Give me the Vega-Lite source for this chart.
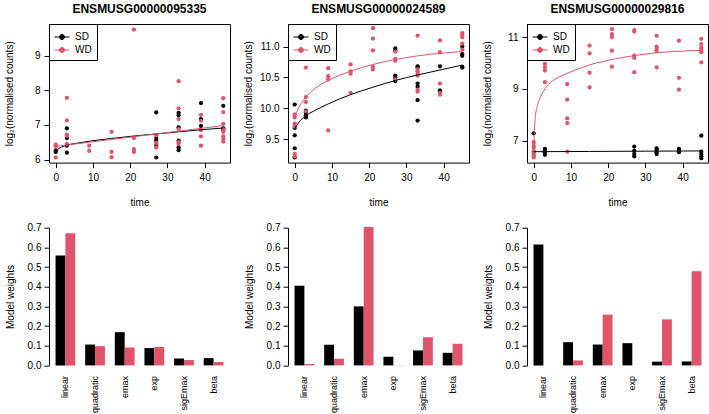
{
  "$schema": "https://vega.github.io/schema/vega-lite/v6.json",
  "background": "white",
  "padding": {"left": 3, "top": 2, "right": 0, "bottom": 0},
  "bounds": "flush",
  "columns": 3,
  "spacing": {"row": 64.7, "column": 58},
  "resolve": {"scale": {"color": "independent"}, "legend": {"color": "independent"}},
  "config": {
    "font": "Liberation Sans",
    "view": {"stroke": "black", "strokeWidth": 1},
    "axis": {
      "grid": false,
      "labelFont": "Liberation Sans",
      "labelFontSize": 10,
      "labelColor": "black",
      "titleFont": "Liberation Sans",
      "titleFontSize": 10,
      "titleFontWeight": "normal",
      "titleColor": "black",
      "tickColor": "black",
      "tickSize": 5,
      "domainColor": "black",
      "labelOverlap": false,
      "labelFlush": false
    },
    "title": {"font": "Liberation Sans", "fontSize": 12, "fontWeight": "bold", "color": "black", "offset": 8},
    "legend": {
      "orient": "top-left",
      "offset": 0,
      "padding": 5,
      "cornerRadius": 0,
      "strokeColor": "black",
      "fillColor": "white",
      "labelFont": "Liberation Sans",
      "labelFontSize": 10,
      "labelColor": "black",
      "rowPadding": -5,
      "labelOffset": 5,
      "symbolType": "M-1,0H1M-0.333,0A0.333,0.333,0,1,0,0.333,0A0.333,0.333,0,1,0,-0.333,0Z",
      "symbolSize": 225,
      "symbolStrokeWidth": 1
    }
  },
  "datasets": {
    "obs": [
      {"gene": "ENSMUSG00000095335", "diet": "SD", "time": 0, "value": 6.25},
      {"gene": "ENSMUSG00000095335", "diet": "SD", "time": 0, "value": 6.22},
      {"gene": "ENSMUSG00000095335", "diet": "SD", "time": 3, "value": 6.9},
      {"gene": "ENSMUSG00000095335", "diet": "SD", "time": 3, "value": 6.62},
      {"gene": "ENSMUSG00000095335", "diet": "SD", "time": 3, "value": 6.4},
      {"gene": "ENSMUSG00000095335", "diet": "SD", "time": 3, "value": 6.2},
      {"gene": "ENSMUSG00000095335", "diet": "SD", "time": 27, "value": 7.36},
      {"gene": "ENSMUSG00000095335", "diet": "SD", "time": 27, "value": 6.62},
      {"gene": "ENSMUSG00000095335", "diet": "SD", "time": 27, "value": 6.55},
      {"gene": "ENSMUSG00000095335", "diet": "SD", "time": 27, "value": 6.4},
      {"gene": "ENSMUSG00000095335", "diet": "SD", "time": 27, "value": 6.06},
      {"gene": "ENSMUSG00000095335", "diet": "SD", "time": 33, "value": 7.35},
      {"gene": "ENSMUSG00000095335", "diet": "SD", "time": 33, "value": 7.28},
      {"gene": "ENSMUSG00000095335", "diet": "SD", "time": 33, "value": 6.93},
      {"gene": "ENSMUSG00000095335", "diet": "SD", "time": 33, "value": 6.55},
      {"gene": "ENSMUSG00000095335", "diet": "SD", "time": 33, "value": 6.35},
      {"gene": "ENSMUSG00000095335", "diet": "SD", "time": 33, "value": 6.27},
      {"gene": "ENSMUSG00000095335", "diet": "SD", "time": 39, "value": 7.63},
      {"gene": "ENSMUSG00000095335", "diet": "SD", "time": 39, "value": 7.17},
      {"gene": "ENSMUSG00000095335", "diet": "SD", "time": 39, "value": 6.97},
      {"gene": "ENSMUSG00000095335", "diet": "SD", "time": 45, "value": 7.55},
      {"gene": "ENSMUSG00000095335", "diet": "SD", "time": 45, "value": 6.9},
      {"gene": "ENSMUSG00000095335", "diet": "SD", "time": 45, "value": 6.85},
      {"gene": "ENSMUSG00000095335", "diet": "WD", "time": 0, "value": 6.43},
      {"gene": "ENSMUSG00000095335", "diet": "WD", "time": 0, "value": 6.4},
      {"gene": "ENSMUSG00000095335", "diet": "WD", "time": 0, "value": 6.36},
      {"gene": "ENSMUSG00000095335", "diet": "WD", "time": 0, "value": 6.06},
      {"gene": "ENSMUSG00000095335", "diet": "WD", "time": 3, "value": 7.78},
      {"gene": "ENSMUSG00000095335", "diet": "WD", "time": 3, "value": 7.13},
      {"gene": "ENSMUSG00000095335", "diet": "WD", "time": 3, "value": 6.72},
      {"gene": "ENSMUSG00000095335", "diet": "WD", "time": 3, "value": 6.68},
      {"gene": "ENSMUSG00000095335", "diet": "WD", "time": 3, "value": 6.45},
      {"gene": "ENSMUSG00000095335", "diet": "WD", "time": 9, "value": 6.4},
      {"gene": "ENSMUSG00000095335", "diet": "WD", "time": 9, "value": 6.25},
      {"gene": "ENSMUSG00000095335", "diet": "WD", "time": 15, "value": 6.8},
      {"gene": "ENSMUSG00000095335", "diet": "WD", "time": 15, "value": 6.22},
      {"gene": "ENSMUSG00000095335", "diet": "WD", "time": 15, "value": 6.07},
      {"gene": "ENSMUSG00000095335", "diet": "WD", "time": 21, "value": 9.75},
      {"gene": "ENSMUSG00000095335", "diet": "WD", "time": 21, "value": 6.62},
      {"gene": "ENSMUSG00000095335", "diet": "WD", "time": 21, "value": 6.3},
      {"gene": "ENSMUSG00000095335", "diet": "WD", "time": 21, "value": 6.22},
      {"gene": "ENSMUSG00000095335", "diet": "WD", "time": 27, "value": 6.7},
      {"gene": "ENSMUSG00000095335", "diet": "WD", "time": 27, "value": 6.48},
      {"gene": "ENSMUSG00000095335", "diet": "WD", "time": 27, "value": 6.35},
      {"gene": "ENSMUSG00000095335", "diet": "WD", "time": 33, "value": 8.26},
      {"gene": "ENSMUSG00000095335", "diet": "WD", "time": 33, "value": 7.48},
      {"gene": "ENSMUSG00000095335", "diet": "WD", "time": 33, "value": 7.17},
      {"gene": "ENSMUSG00000095335", "diet": "WD", "time": 33, "value": 6.88},
      {"gene": "ENSMUSG00000095335", "diet": "WD", "time": 33, "value": 6.5},
      {"gene": "ENSMUSG00000095335", "diet": "WD", "time": 33, "value": 6.45},
      {"gene": "ENSMUSG00000095335", "diet": "WD", "time": 39, "value": 7.29},
      {"gene": "ENSMUSG00000095335", "diet": "WD", "time": 39, "value": 7.12},
      {"gene": "ENSMUSG00000095335", "diet": "WD", "time": 39, "value": 6.85},
      {"gene": "ENSMUSG00000095335", "diet": "WD", "time": 39, "value": 6.67},
      {"gene": "ENSMUSG00000095335", "diet": "WD", "time": 39, "value": 6.4},
      {"gene": "ENSMUSG00000095335", "diet": "WD", "time": 45, "value": 7.77},
      {"gene": "ENSMUSG00000095335", "diet": "WD", "time": 45, "value": 7.37},
      {"gene": "ENSMUSG00000095335", "diet": "WD", "time": 45, "value": 7.03},
      {"gene": "ENSMUSG00000095335", "diet": "WD", "time": 45, "value": 6.87},
      {"gene": "ENSMUSG00000095335", "diet": "WD", "time": 45, "value": 6.8},
      {"gene": "ENSMUSG00000095335", "diet": "WD", "time": 45, "value": 6.67},
      {"gene": "ENSMUSG00000095335", "diet": "WD", "time": 45, "value": 6.6},
      {"gene": "ENSMUSG00000095335", "diet": "WD", "time": 45, "value": 6.52},

      {"gene": "ENSMUSG00000024589", "diet": "SD", "time": 0, "value": 10.06},
      {"gene": "ENSMUSG00000024589", "diet": "SD", "time": 0, "value": 9.68},
      {"gene": "ENSMUSG00000024589", "diet": "SD", "time": 0, "value": 9.56},
      {"gene": "ENSMUSG00000024589", "diet": "SD", "time": 0, "value": 9.35},
      {"gene": "ENSMUSG00000024589", "diet": "SD", "time": 0, "value": 9.2},
      {"gene": "ENSMUSG00000024589", "diet": "SD", "time": 3, "value": 9.96},
      {"gene": "ENSMUSG00000024589", "diet": "SD", "time": 3, "value": 9.93},
      {"gene": "ENSMUSG00000024589", "diet": "SD", "time": 3, "value": 9.88},
      {"gene": "ENSMUSG00000024589", "diet": "SD", "time": 3, "value": 9.85},
      {"gene": "ENSMUSG00000024589", "diet": "SD", "time": 27, "value": 10.97},
      {"gene": "ENSMUSG00000024589", "diet": "SD", "time": 27, "value": 10.94},
      {"gene": "ENSMUSG00000024589", "diet": "SD", "time": 27, "value": 10.53},
      {"gene": "ENSMUSG00000024589", "diet": "SD", "time": 27, "value": 10.5},
      {"gene": "ENSMUSG00000024589", "diet": "SD", "time": 27, "value": 10.44},
      {"gene": "ENSMUSG00000024589", "diet": "SD", "time": 33, "value": 10.68},
      {"gene": "ENSMUSG00000024589", "diet": "SD", "time": 33, "value": 10.66},
      {"gene": "ENSMUSG00000024589", "diet": "SD", "time": 33, "value": 10.4},
      {"gene": "ENSMUSG00000024589", "diet": "SD", "time": 33, "value": 10.35},
      {"gene": "ENSMUSG00000024589", "diet": "SD", "time": 33, "value": 10.13},
      {"gene": "ENSMUSG00000024589", "diet": "SD", "time": 33, "value": 9.8},
      {"gene": "ENSMUSG00000024589", "diet": "SD", "time": 39, "value": 10.68},
      {"gene": "ENSMUSG00000024589", "diet": "SD", "time": 39, "value": 10.29},
      {"gene": "ENSMUSG00000024589", "diet": "SD", "time": 39, "value": 10.27},
      {"gene": "ENSMUSG00000024589", "diet": "SD", "time": 45, "value": 11.0},
      {"gene": "ENSMUSG00000024589", "diet": "SD", "time": 45, "value": 10.88},
      {"gene": "ENSMUSG00000024589", "diet": "SD", "time": 45, "value": 10.85},
      {"gene": "ENSMUSG00000024589", "diet": "SD", "time": 45, "value": 10.67},
      {"gene": "ENSMUSG00000024589", "diet": "SD", "time": 45, "value": 10.66},
      {"gene": "ENSMUSG00000024589", "diet": "WD", "time": 0, "value": 9.9},
      {"gene": "ENSMUSG00000024589", "diet": "WD", "time": 0, "value": 9.85},
      {"gene": "ENSMUSG00000024589", "diet": "WD", "time": 0, "value": 9.75},
      {"gene": "ENSMUSG00000024589", "diet": "WD", "time": 0, "value": 9.7},
      {"gene": "ENSMUSG00000024589", "diet": "WD", "time": 0, "value": 9.26},
      {"gene": "ENSMUSG00000024589", "diet": "WD", "time": 0, "value": 9.22},
      {"gene": "ENSMUSG00000024589", "diet": "WD", "time": 3, "value": 10.66},
      {"gene": "ENSMUSG00000024589", "diet": "WD", "time": 3, "value": 10.18},
      {"gene": "ENSMUSG00000024589", "diet": "WD", "time": 3, "value": 10.1},
      {"gene": "ENSMUSG00000024589", "diet": "WD", "time": 3, "value": 9.95},
      {"gene": "ENSMUSG00000024589", "diet": "WD", "time": 9, "value": 10.65},
      {"gene": "ENSMUSG00000024589", "diet": "WD", "time": 9, "value": 10.52},
      {"gene": "ENSMUSG00000024589", "diet": "WD", "time": 9, "value": 10.47},
      {"gene": "ENSMUSG00000024589", "diet": "WD", "time": 9, "value": 9.64},
      {"gene": "ENSMUSG00000024589", "diet": "WD", "time": 15, "value": 10.71},
      {"gene": "ENSMUSG00000024589", "diet": "WD", "time": 15, "value": 10.6},
      {"gene": "ENSMUSG00000024589", "diet": "WD", "time": 15, "value": 10.56},
      {"gene": "ENSMUSG00000024589", "diet": "WD", "time": 15, "value": 10.25},
      {"gene": "ENSMUSG00000024589", "diet": "WD", "time": 21, "value": 11.3},
      {"gene": "ENSMUSG00000024589", "diet": "WD", "time": 21, "value": 11.13},
      {"gene": "ENSMUSG00000024589", "diet": "WD", "time": 21, "value": 10.94},
      {"gene": "ENSMUSG00000024589", "diet": "WD", "time": 21, "value": 10.67},
      {"gene": "ENSMUSG00000024589", "diet": "WD", "time": 21, "value": 10.63},
      {"gene": "ENSMUSG00000024589", "diet": "WD", "time": 27, "value": 10.92},
      {"gene": "ENSMUSG00000024589", "diet": "WD", "time": 27, "value": 10.8},
      {"gene": "ENSMUSG00000024589", "diet": "WD", "time": 27, "value": 10.77},
      {"gene": "ENSMUSG00000024589", "diet": "WD", "time": 27, "value": 10.47},
      {"gene": "ENSMUSG00000024589", "diet": "WD", "time": 33, "value": 11.18},
      {"gene": "ENSMUSG00000024589", "diet": "WD", "time": 33, "value": 10.63},
      {"gene": "ENSMUSG00000024589", "diet": "WD", "time": 33, "value": 10.6},
      {"gene": "ENSMUSG00000024589", "diet": "WD", "time": 33, "value": 10.56},
      {"gene": "ENSMUSG00000024589", "diet": "WD", "time": 33, "value": 10.53},
      {"gene": "ENSMUSG00000024589", "diet": "WD", "time": 33, "value": 10.3},
      {"gene": "ENSMUSG00000024589", "diet": "WD", "time": 33, "value": 10.27},
      {"gene": "ENSMUSG00000024589", "diet": "WD", "time": 39, "value": 11.1},
      {"gene": "ENSMUSG00000024589", "diet": "WD", "time": 39, "value": 10.91},
      {"gene": "ENSMUSG00000024589", "diet": "WD", "time": 39, "value": 10.4},
      {"gene": "ENSMUSG00000024589", "diet": "WD", "time": 39, "value": 10.25},
      {"gene": "ENSMUSG00000024589", "diet": "WD", "time": 39, "value": 10.22},
      {"gene": "ENSMUSG00000024589", "diet": "WD", "time": 45, "value": 11.22},
      {"gene": "ENSMUSG00000024589", "diet": "WD", "time": 45, "value": 11.19},
      {"gene": "ENSMUSG00000024589", "diet": "WD", "time": 45, "value": 11.15},
      {"gene": "ENSMUSG00000024589", "diet": "WD", "time": 45, "value": 11.05},
      {"gene": "ENSMUSG00000024589", "diet": "WD", "time": 45, "value": 10.95},

      {"gene": "ENSMUSG00000029816", "diet": "SD", "time": 0, "value": 7.28},
      {"gene": "ENSMUSG00000029816", "diet": "SD", "time": 0, "value": 6.57},
      {"gene": "ENSMUSG00000029816", "diet": "SD", "time": 3, "value": 6.68},
      {"gene": "ENSMUSG00000029816", "diet": "SD", "time": 3, "value": 6.61},
      {"gene": "ENSMUSG00000029816", "diet": "SD", "time": 3, "value": 6.55},
      {"gene": "ENSMUSG00000029816", "diet": "SD", "time": 3, "value": 6.45},
      {"gene": "ENSMUSG00000029816", "diet": "SD", "time": 27, "value": 6.77},
      {"gene": "ENSMUSG00000029816", "diet": "SD", "time": 27, "value": 6.6},
      {"gene": "ENSMUSG00000029816", "diet": "SD", "time": 27, "value": 6.48},
      {"gene": "ENSMUSG00000029816", "diet": "SD", "time": 27, "value": 6.39},
      {"gene": "ENSMUSG00000029816", "diet": "SD", "time": 33, "value": 6.7},
      {"gene": "ENSMUSG00000029816", "diet": "SD", "time": 33, "value": 6.64},
      {"gene": "ENSMUSG00000029816", "diet": "SD", "time": 33, "value": 6.55},
      {"gene": "ENSMUSG00000029816", "diet": "SD", "time": 33, "value": 6.48},
      {"gene": "ENSMUSG00000029816", "diet": "SD", "time": 39, "value": 6.68},
      {"gene": "ENSMUSG00000029816", "diet": "SD", "time": 39, "value": 6.61},
      {"gene": "ENSMUSG00000029816", "diet": "SD", "time": 39, "value": 6.55},
      {"gene": "ENSMUSG00000029816", "diet": "SD", "time": 45, "value": 7.19},
      {"gene": "ENSMUSG00000029816", "diet": "SD", "time": 45, "value": 6.57},
      {"gene": "ENSMUSG00000029816", "diet": "SD", "time": 45, "value": 6.48},
      {"gene": "ENSMUSG00000029816", "diet": "SD", "time": 45, "value": 6.39},
      {"gene": "ENSMUSG00000029816", "diet": "SD", "time": 45, "value": 6.32},
      {"gene": "ENSMUSG00000029816", "diet": "WD", "time": 0, "value": 6.94},
      {"gene": "ENSMUSG00000029816", "diet": "WD", "time": 0, "value": 6.8},
      {"gene": "ENSMUSG00000029816", "diet": "WD", "time": 0, "value": 6.72},
      {"gene": "ENSMUSG00000029816", "diet": "WD", "time": 0, "value": 6.57},
      {"gene": "ENSMUSG00000029816", "diet": "WD", "time": 0, "value": 6.48},
      {"gene": "ENSMUSG00000029816", "diet": "WD", "time": 0, "value": 6.42},
      {"gene": "ENSMUSG00000029816", "diet": "WD", "time": 0, "value": 6.35},
      {"gene": "ENSMUSG00000029816", "diet": "WD", "time": 3, "value": 10.5},
      {"gene": "ENSMUSG00000029816", "diet": "WD", "time": 3, "value": 10.16},
      {"gene": "ENSMUSG00000029816", "diet": "WD", "time": 3, "value": 9.97},
      {"gene": "ENSMUSG00000029816", "diet": "WD", "time": 3, "value": 9.84},
      {"gene": "ENSMUSG00000029816", "diet": "WD", "time": 3, "value": 9.71},
      {"gene": "ENSMUSG00000029816", "diet": "WD", "time": 3, "value": 9.26},
      {"gene": "ENSMUSG00000029816", "diet": "WD", "time": 9, "value": 9.19},
      {"gene": "ENSMUSG00000029816", "diet": "WD", "time": 9, "value": 8.59},
      {"gene": "ENSMUSG00000029816", "diet": "WD", "time": 9, "value": 7.86},
      {"gene": "ENSMUSG00000029816", "diet": "WD", "time": 9, "value": 7.68},
      {"gene": "ENSMUSG00000029816", "diet": "WD", "time": 9, "value": 6.57},
      {"gene": "ENSMUSG00000029816", "diet": "WD", "time": 15, "value": 10.68},
      {"gene": "ENSMUSG00000029816", "diet": "WD", "time": 15, "value": 10.38},
      {"gene": "ENSMUSG00000029816", "diet": "WD", "time": 15, "value": 9.63},
      {"gene": "ENSMUSG00000029816", "diet": "WD", "time": 15, "value": 9.06},
      {"gene": "ENSMUSG00000029816", "diet": "WD", "time": 21, "value": 11.32},
      {"gene": "ENSMUSG00000029816", "diet": "WD", "time": 21, "value": 11.12},
      {"gene": "ENSMUSG00000029816", "diet": "WD", "time": 21, "value": 11.01},
      {"gene": "ENSMUSG00000029816", "diet": "WD", "time": 21, "value": 10.48},
      {"gene": "ENSMUSG00000029816", "diet": "WD", "time": 21, "value": 9.86},
      {"gene": "ENSMUSG00000029816", "diet": "WD", "time": 27, "value": 11.28},
      {"gene": "ENSMUSG00000029816", "diet": "WD", "time": 27, "value": 11.22},
      {"gene": "ENSMUSG00000029816", "diet": "WD", "time": 27, "value": 10.29},
      {"gene": "ENSMUSG00000029816", "diet": "WD", "time": 27, "value": 10.2},
      {"gene": "ENSMUSG00000029816", "diet": "WD", "time": 27, "value": 9.65},
      {"gene": "ENSMUSG00000029816", "diet": "WD", "time": 33, "value": 11.06},
      {"gene": "ENSMUSG00000029816", "diet": "WD", "time": 33, "value": 10.64},
      {"gene": "ENSMUSG00000029816", "diet": "WD", "time": 33, "value": 10.55},
      {"gene": "ENSMUSG00000029816", "diet": "WD", "time": 33, "value": 10.48},
      {"gene": "ENSMUSG00000029816", "diet": "WD", "time": 33, "value": 9.84},
      {"gene": "ENSMUSG00000029816", "diet": "WD", "time": 39, "value": 10.87},
      {"gene": "ENSMUSG00000029816", "diet": "WD", "time": 39, "value": 9.43},
      {"gene": "ENSMUSG00000029816", "diet": "WD", "time": 39, "value": 8.97},
      {"gene": "ENSMUSG00000029816", "diet": "WD", "time": 45, "value": 10.94},
      {"gene": "ENSMUSG00000029816", "diet": "WD", "time": 45, "value": 10.74},
      {"gene": "ENSMUSG00000029816", "diet": "WD", "time": 45, "value": 10.59},
      {"gene": "ENSMUSG00000029816", "diet": "WD", "time": 45, "value": 10.48},
      {"gene": "ENSMUSG00000029816", "diet": "WD", "time": 45, "value": 10.42},
      {"gene": "ENSMUSG00000029816", "diet": "WD", "time": 45, "value": 10.03}
    ],
    "fit": [
      {"gene": "ENSMUSG00000095335", "diet": "SD", "time": 0, "value": 6.25},
      {"gene": "ENSMUSG00000095335", "diet": "SD", "time": 1, "value": 6.33},
      {"gene": "ENSMUSG00000095335", "diet": "SD", "time": 2, "value": 6.38},
      {"gene": "ENSMUSG00000095335", "diet": "SD", "time": 3, "value": 6.42},
      {"gene": "ENSMUSG00000095335", "diet": "SD", "time": 5, "value": 6.46},
      {"gene": "ENSMUSG00000095335", "diet": "SD", "time": 9, "value": 6.53},
      {"gene": "ENSMUSG00000095335", "diet": "SD", "time": 15, "value": 6.61},
      {"gene": "ENSMUSG00000095335", "diet": "SD", "time": 21, "value": 6.68},
      {"gene": "ENSMUSG00000095335", "diet": "SD", "time": 27, "value": 6.74},
      {"gene": "ENSMUSG00000095335", "diet": "SD", "time": 33, "value": 6.8},
      {"gene": "ENSMUSG00000095335", "diet": "SD", "time": 39, "value": 6.86},
      {"gene": "ENSMUSG00000095335", "diet": "SD", "time": 45, "value": 6.91},
      {"gene": "ENSMUSG00000095335", "diet": "WD", "time": 0, "value": 6.38},
      {"gene": "ENSMUSG00000095335", "diet": "WD", "time": 3, "value": 6.42},
      {"gene": "ENSMUSG00000095335", "diet": "WD", "time": 9, "value": 6.5},
      {"gene": "ENSMUSG00000095335", "diet": "WD", "time": 15, "value": 6.58},
      {"gene": "ENSMUSG00000095335", "diet": "WD", "time": 21, "value": 6.66},
      {"gene": "ENSMUSG00000095335", "diet": "WD", "time": 27, "value": 6.74},
      {"gene": "ENSMUSG00000095335", "diet": "WD", "time": 33, "value": 6.82},
      {"gene": "ENSMUSG00000095335", "diet": "WD", "time": 39, "value": 6.9},
      {"gene": "ENSMUSG00000095335", "diet": "WD", "time": 45, "value": 6.98},

      {"gene": "ENSMUSG00000024589", "diet": "SD", "time": 0, "value": 9.67},
      {"gene": "ENSMUSG00000024589", "diet": "SD", "time": 1, "value": 9.76},
      {"gene": "ENSMUSG00000024589", "diet": "SD", "time": 2, "value": 9.83},
      {"gene": "ENSMUSG00000024589", "diet": "SD", "time": 3, "value": 9.88},
      {"gene": "ENSMUSG00000024589", "diet": "SD", "time": 5, "value": 9.95},
      {"gene": "ENSMUSG00000024589", "diet": "SD", "time": 9, "value": 10.07},
      {"gene": "ENSMUSG00000024589", "diet": "SD", "time": 15, "value": 10.22},
      {"gene": "ENSMUSG00000024589", "diet": "SD", "time": 21, "value": 10.34},
      {"gene": "ENSMUSG00000024589", "diet": "SD", "time": 27, "value": 10.45},
      {"gene": "ENSMUSG00000024589", "diet": "SD", "time": 33, "value": 10.54},
      {"gene": "ENSMUSG00000024589", "diet": "SD", "time": 39, "value": 10.62},
      {"gene": "ENSMUSG00000024589", "diet": "SD", "time": 45, "value": 10.7},
      {"gene": "ENSMUSG00000024589", "diet": "WD", "time": 0, "value": 9.85},
      {"gene": "ENSMUSG00000024589", "diet": "WD", "time": 1, "value": 10.0},
      {"gene": "ENSMUSG00000024589", "diet": "WD", "time": 2, "value": 10.1},
      {"gene": "ENSMUSG00000024589", "diet": "WD", "time": 3, "value": 10.18},
      {"gene": "ENSMUSG00000024589", "diet": "WD", "time": 5, "value": 10.3},
      {"gene": "ENSMUSG00000024589", "diet": "WD", "time": 9, "value": 10.45},
      {"gene": "ENSMUSG00000024589", "diet": "WD", "time": 15, "value": 10.6},
      {"gene": "ENSMUSG00000024589", "diet": "WD", "time": 21, "value": 10.71},
      {"gene": "ENSMUSG00000024589", "diet": "WD", "time": 27, "value": 10.79},
      {"gene": "ENSMUSG00000024589", "diet": "WD", "time": 33, "value": 10.85},
      {"gene": "ENSMUSG00000024589", "diet": "WD", "time": 39, "value": 10.89},
      {"gene": "ENSMUSG00000024589", "diet": "WD", "time": 45, "value": 10.92},

      {"gene": "ENSMUSG00000029816", "diet": "SD", "time": 0, "value": 6.57},
      {"gene": "ENSMUSG00000029816", "diet": "SD", "time": 15, "value": 6.58},
      {"gene": "ENSMUSG00000029816", "diet": "SD", "time": 30, "value": 6.59},
      {"gene": "ENSMUSG00000029816", "diet": "SD", "time": 45, "value": 6.6},
      {"gene": "ENSMUSG00000029816", "diet": "WD", "time": 0, "value": 6.7},
      {"gene": "ENSMUSG00000029816", "diet": "WD", "time": 0.2, "value": 7.4},
      {"gene": "ENSMUSG00000029816", "diet": "WD", "time": 0.5, "value": 8.0},
      {"gene": "ENSMUSG00000029816", "diet": "WD", "time": 1, "value": 8.35},
      {"gene": "ENSMUSG00000029816", "diet": "WD", "time": 2, "value": 8.75},
      {"gene": "ENSMUSG00000029816", "diet": "WD", "time": 3, "value": 9.0},
      {"gene": "ENSMUSG00000029816", "diet": "WD", "time": 5, "value": 9.3},
      {"gene": "ENSMUSG00000029816", "diet": "WD", "time": 9, "value": 9.6},
      {"gene": "ENSMUSG00000029816", "diet": "WD", "time": 15, "value": 9.93},
      {"gene": "ENSMUSG00000029816", "diet": "WD", "time": 21, "value": 10.14},
      {"gene": "ENSMUSG00000029816", "diet": "WD", "time": 27, "value": 10.29},
      {"gene": "ENSMUSG00000029816", "diet": "WD", "time": 33, "value": 10.4},
      {"gene": "ENSMUSG00000029816", "diet": "WD", "time": 39, "value": 10.46},
      {"gene": "ENSMUSG00000029816", "diet": "WD", "time": 45, "value": 10.49}
    ],
    "weights": [
      {"gene": "ENSMUSG00000095335", "diet": "SD", "model": "linear", "weight": 0.559},
      {"gene": "ENSMUSG00000095335", "diet": "SD", "model": "quadratic", "weight": 0.106},
      {"gene": "ENSMUSG00000095335", "diet": "SD", "model": "emax", "weight": 0.169},
      {"gene": "ENSMUSG00000095335", "diet": "SD", "model": "exp", "weight": 0.088},
      {"gene": "ENSMUSG00000095335", "diet": "SD", "model": "sigEmax", "weight": 0.035},
      {"gene": "ENSMUSG00000095335", "diet": "SD", "model": "beta", "weight": 0.037},
      {"gene": "ENSMUSG00000095335", "diet": "WD", "model": "linear", "weight": 0.672},
      {"gene": "ENSMUSG00000095335", "diet": "WD", "model": "quadratic", "weight": 0.098},
      {"gene": "ENSMUSG00000095335", "diet": "WD", "model": "emax", "weight": 0.091},
      {"gene": "ENSMUSG00000095335", "diet": "WD", "model": "exp", "weight": 0.094},
      {"gene": "ENSMUSG00000095335", "diet": "WD", "model": "sigEmax", "weight": 0.027},
      {"gene": "ENSMUSG00000095335", "diet": "WD", "model": "beta", "weight": 0.017},
      {"gene": "ENSMUSG00000024589", "diet": "SD", "model": "linear", "weight": 0.405},
      {"gene": "ENSMUSG00000024589", "diet": "SD", "model": "quadratic", "weight": 0.105},
      {"gene": "ENSMUSG00000024589", "diet": "SD", "model": "emax", "weight": 0.3},
      {"gene": "ENSMUSG00000024589", "diet": "SD", "model": "exp", "weight": 0.044},
      {"gene": "ENSMUSG00000024589", "diet": "SD", "model": "sigEmax", "weight": 0.076},
      {"gene": "ENSMUSG00000024589", "diet": "SD", "model": "beta", "weight": 0.064},
      {"gene": "ENSMUSG00000024589", "diet": "WD", "model": "linear", "weight": 0.007},
      {"gene": "ENSMUSG00000024589", "diet": "WD", "model": "quadratic", "weight": 0.034},
      {"gene": "ENSMUSG00000024589", "diet": "WD", "model": "emax", "weight": 0.703},
      {"gene": "ENSMUSG00000024589", "diet": "WD", "model": "exp", "weight": 0.001},
      {"gene": "ENSMUSG00000024589", "diet": "WD", "model": "sigEmax", "weight": 0.143},
      {"gene": "ENSMUSG00000024589", "diet": "WD", "model": "beta", "weight": 0.11},
      {"gene": "ENSMUSG00000029816", "diet": "SD", "model": "linear", "weight": 0.614},
      {"gene": "ENSMUSG00000029816", "diet": "SD", "model": "quadratic", "weight": 0.118},
      {"gene": "ENSMUSG00000029816", "diet": "SD", "model": "emax", "weight": 0.106},
      {"gene": "ENSMUSG00000029816", "diet": "SD", "model": "exp", "weight": 0.113},
      {"gene": "ENSMUSG00000029816", "diet": "SD", "model": "sigEmax", "weight": 0.019},
      {"gene": "ENSMUSG00000029816", "diet": "SD", "model": "beta", "weight": 0.02},
      {"gene": "ENSMUSG00000029816", "diet": "WD", "model": "linear", "weight": 0.0},
      {"gene": "ENSMUSG00000029816", "diet": "WD", "model": "quadratic", "weight": 0.025},
      {"gene": "ENSMUSG00000029816", "diet": "WD", "model": "emax", "weight": 0.258},
      {"gene": "ENSMUSG00000029816", "diet": "WD", "model": "exp", "weight": 0.0},
      {"gene": "ENSMUSG00000029816", "diet": "WD", "model": "sigEmax", "weight": 0.234},
      {"gene": "ENSMUSG00000029816", "diet": "WD", "model": "beta", "weight": 0.479}
    ]
  },
  "concat": [
    {
      "title": "ENSMUSG00000095335",
      "width": 181,
      "height": 138.6,
      "layer": [
        {
          "data": {"name": "obs"},
          "transform": [{"filter": "datum.gene === 'ENSMUSG00000095335'"}],
          "mark": {"type": "circle", "size": 18, "opacity": 1},
          "encoding": {
            "x": {"field": "time", "type": "quantitative", "scale": {"domain": [-1.8, 46.8], "nice": false, "zero": false},
                  "axis": {"values": [0, 10, 20, 30, 40], "title": "time", "domain": false, "labelPadding": 5, "titleY": 39.5, "titleBaseline": "middle"}},
            "y": {"field": "value", "type": "quantitative", "scale": {"domain": [5.913, 9.91], "nice": false, "zero": false},
                  "axis": {"values": [6, 7, 8, 9], "title": "log₂(normalised counts)", "domain": false, "labelPadding": 4, "titleX": -40, "titleBaseline": "middle", "titleAngle": -90}},
            "color": {"field": "diet", "type": "nominal", "scale": {"domain": ["SD", "WD"], "range": ["#000000", "#DF536B"]},
                      "legend": {"title": null, "encode": {"symbols": {"update": {
                        "fill": {"signal": "datum.value === 'SD' ? '#000000' : '#DF536B'"},
                        "stroke": {"signal": "datum.value === 'SD' ? '#000000' : '#DF536B'"},
                        "strokeWidth": {"value": 1}, "opacity": {"value": 1}}}}}}
          }
        },
        {
          "data": {"name": "fit"},
          "transform": [{"filter": "datum.gene === 'ENSMUSG00000095335'"}],
          "mark": {"type": "line", "strokeWidth": 1, "interpolate": "monotone"},
          "encoding": {
            "x": {"field": "time", "type": "quantitative", "scale": {"domain": [-1.8, 46.8], "nice": false, "zero": false}},
            "y": {"field": "value", "type": "quantitative", "scale": {"domain": [5.913, 9.91], "nice": false, "zero": false}},
            "color": {"field": "diet", "type": "nominal", "scale": {"domain": ["SD", "WD"], "range": ["#000000", "#DF536B"]},
                      "legend": {"title": null, "encode": {"symbols": {"update": {
                        "fill": {"signal": "datum.value === 'SD' ? '#000000' : '#DF536B'"},
                        "stroke": {"signal": "datum.value === 'SD' ? '#000000' : '#DF536B'"},
                        "strokeWidth": {"value": 1}, "opacity": {"value": 1}}}}}}
          }
        }
      ]
    },
    {
      "title": "ENSMUSG00000024589",
      "width": 181,
      "height": 138.6,
      "layer": [
        {
          "data": {"name": "obs"},
          "transform": [{"filter": "datum.gene === 'ENSMUSG00000024589'"}],
          "mark": {"type": "circle", "size": 18, "opacity": 1},
          "encoding": {
            "x": {"field": "time", "type": "quantitative", "scale": {"domain": [-1.8, 46.8], "nice": false, "zero": false},
                  "axis": {"values": [0, 10, 20, 30, 40], "title": "time", "domain": false, "labelPadding": 5, "titleY": 39.5, "titleBaseline": "middle"}},
            "y": {"field": "value", "type": "quantitative", "scale": {"domain": [9.117, 11.367], "nice": false, "zero": false},
                  "axis": {"values": [9.5, 10, 10.5, 11], "format": ".1f", "title": "log₂(normalised counts)", "domain": false, "labelPadding": 4, "titleX": -40, "titleBaseline": "middle", "titleAngle": -90}},
            "color": {"field": "diet", "type": "nominal", "scale": {"domain": ["SD", "WD"], "range": ["#000000", "#DF536B"]},
                      "legend": {"title": null, "encode": {"symbols": {"update": {
                        "fill": {"signal": "datum.value === 'SD' ? '#000000' : '#DF536B'"},
                        "stroke": {"signal": "datum.value === 'SD' ? '#000000' : '#DF536B'"},
                        "strokeWidth": {"value": 1}, "opacity": {"value": 1}}}}}}
          }
        },
        {
          "data": {"name": "fit"},
          "transform": [{"filter": "datum.gene === 'ENSMUSG00000024589'"}],
          "mark": {"type": "line", "strokeWidth": 1, "interpolate": "monotone"},
          "encoding": {
            "x": {"field": "time", "type": "quantitative", "scale": {"domain": [-1.8, 46.8], "nice": false, "zero": false}},
            "y": {"field": "value", "type": "quantitative", "scale": {"domain": [9.117, 11.367], "nice": false, "zero": false}},
            "color": {"field": "diet", "type": "nominal", "scale": {"domain": ["SD", "WD"], "range": ["#000000", "#DF536B"]},
                      "legend": {"title": null, "encode": {"symbols": {"update": {
                        "fill": {"signal": "datum.value === 'SD' ? '#000000' : '#DF536B'"},
                        "stroke": {"signal": "datum.value === 'SD' ? '#000000' : '#DF536B'"},
                        "strokeWidth": {"value": 1}, "opacity": {"value": 1}}}}}}
          }
        }
      ]
    },
    {
      "title": "ENSMUSG00000029816",
      "width": 181,
      "height": 138.6,
      "layer": [
        {
          "data": {"name": "obs"},
          "transform": [{"filter": "datum.gene === 'ENSMUSG00000029816'"}],
          "mark": {"type": "circle", "size": 18, "opacity": 1},
          "encoding": {
            "x": {"field": "time", "type": "quantitative", "scale": {"domain": [-1.8, 46.8], "nice": false, "zero": false},
                  "axis": {"values": [0, 10, 20, 30, 40], "title": "time", "domain": false, "labelPadding": 5, "titleY": 39.5, "titleBaseline": "middle"}},
            "y": {"field": "value", "type": "quantitative", "scale": {"domain": [6.148, 11.515], "nice": false, "zero": false},
                  "axis": {"values": [7, 8, 9, 10, 11], "title": "log₂(normalised counts)", "domain": false, "labelPadding": 4, "titleX": -40, "titleBaseline": "middle", "titleAngle": -90}},
            "color": {"field": "diet", "type": "nominal", "scale": {"domain": ["SD", "WD"], "range": ["#000000", "#DF536B"]},
                      "legend": {"title": null, "encode": {"symbols": {"update": {
                        "fill": {"signal": "datum.value === 'SD' ? '#000000' : '#DF536B'"},
                        "stroke": {"signal": "datum.value === 'SD' ? '#000000' : '#DF536B'"},
                        "strokeWidth": {"value": 1}, "opacity": {"value": 1}}}}}}
          }
        },
        {
          "data": {"name": "fit"},
          "transform": [{"filter": "datum.gene === 'ENSMUSG00000029816'"}],
          "mark": {"type": "line", "strokeWidth": 1, "interpolate": "monotone"},
          "encoding": {
            "x": {"field": "time", "type": "quantitative", "scale": {"domain": [-1.8, 46.8], "nice": false, "zero": false}},
            "y": {"field": "value", "type": "quantitative", "scale": {"domain": [6.148, 11.515], "nice": false, "zero": false}},
            "color": {"field": "diet", "type": "nominal", "scale": {"domain": ["SD", "WD"], "range": ["#000000", "#DF536B"]},
                      "legend": {"title": null, "encode": {"symbols": {"update": {
                        "fill": {"signal": "datum.value === 'SD' ? '#000000' : '#DF536B'"},
                        "stroke": {"signal": "datum.value === 'SD' ? '#000000' : '#DF536B'"},
                        "strokeWidth": {"value": 1}, "opacity": {"value": 1}}}}}}
          }
        }
      ]
    },
    {
      "data": {"name": "weights"},
      "transform": [{"filter": "datum.gene === 'ENSMUSG00000095335'"}],
      "width": 181,
      "height": 137.7,
      "view": {"stroke": null},
      "mark": {"type": "bar"},
      "encoding": {
        "x": {"field": "model", "type": "nominal", "sort": ["linear", "quadratic", "emax", "exp", "sigEmax", "beta"],
              "scale": {"paddingInner": 0.3333, "paddingOuter": 0.22},
              "axis": {"title": null, "labelAngle": -90, "ticks": false, "domain": false, "labelPadding": 10, "labelFontSize": 9}},
        "xOffset": {"field": "diet", "type": "nominal", "sort": ["SD", "WD"], "scale": {"paddingInner": 0, "paddingOuter": 0}},
        "y": {"field": "weight", "type": "quantitative", "scale": {"domain": [0, 0.7], "nice": false, "zero": true},
              "axis": {"values": [0, 0.1, 0.2, 0.3, 0.4, 0.5, 0.6, 0.7], "format": ".1f", "title": "Model weights", "domain": true, "labelPadding": 3, "titleX": -39, "titleBaseline": "middle", "titleAngle": -90}},
        "color": {"field": "diet", "type": "nominal", "scale": {"domain": ["SD", "WD"], "range": ["#000000", "#DF536B"]}, "legend": null}
      }
    },
    {
      "data": {"name": "weights"},
      "transform": [{"filter": "datum.gene === 'ENSMUSG00000024589'"}],
      "width": 181,
      "height": 137.7,
      "view": {"stroke": null},
      "mark": {"type": "bar"},
      "encoding": {
        "x": {"field": "model", "type": "nominal", "sort": ["linear", "quadratic", "emax", "exp", "sigEmax", "beta"],
              "scale": {"paddingInner": 0.3333, "paddingOuter": 0.22},
              "axis": {"title": null, "labelAngle": -90, "ticks": false, "domain": false, "labelPadding": 10, "labelFontSize": 9}},
        "xOffset": {"field": "diet", "type": "nominal", "sort": ["SD", "WD"], "scale": {"paddingInner": 0, "paddingOuter": 0}},
        "y": {"field": "weight", "type": "quantitative", "scale": {"domain": [0, 0.7], "nice": false, "zero": true},
              "axis": {"values": [0, 0.1, 0.2, 0.3, 0.4, 0.5, 0.6, 0.7], "format": ".1f", "title": "Model weights", "domain": true, "labelPadding": 3, "titleX": -39, "titleBaseline": "middle", "titleAngle": -90}},
        "color": {"field": "diet", "type": "nominal", "scale": {"domain": ["SD", "WD"], "range": ["#000000", "#DF536B"]}, "legend": null}
      }
    },
    {
      "data": {"name": "weights"},
      "transform": [{"filter": "datum.gene === 'ENSMUSG00000029816'"}],
      "width": 181,
      "height": 137.7,
      "view": {"stroke": null},
      "mark": {"type": "bar"},
      "encoding": {
        "x": {"field": "model", "type": "nominal", "sort": ["linear", "quadratic", "emax", "exp", "sigEmax", "beta"],
              "scale": {"paddingInner": 0.3333, "paddingOuter": 0.22},
              "axis": {"title": null, "labelAngle": -90, "ticks": false, "domain": false, "labelPadding": 10, "labelFontSize": 9}},
        "xOffset": {"field": "diet", "type": "nominal", "sort": ["SD", "WD"], "scale": {"paddingInner": 0, "paddingOuter": 0}},
        "y": {"field": "weight", "type": "quantitative", "scale": {"domain": [0, 0.7], "nice": false, "zero": true},
              "axis": {"values": [0, 0.1, 0.2, 0.3, 0.4, 0.5, 0.6, 0.7], "format": ".1f", "title": "Model weights", "domain": true, "labelPadding": 3, "titleX": -39, "titleBaseline": "middle", "titleAngle": -90}},
        "color": {"field": "diet", "type": "nominal", "scale": {"domain": ["SD", "WD"], "range": ["#000000", "#DF536B"]}, "legend": null}
      }
    }
  ]
}
